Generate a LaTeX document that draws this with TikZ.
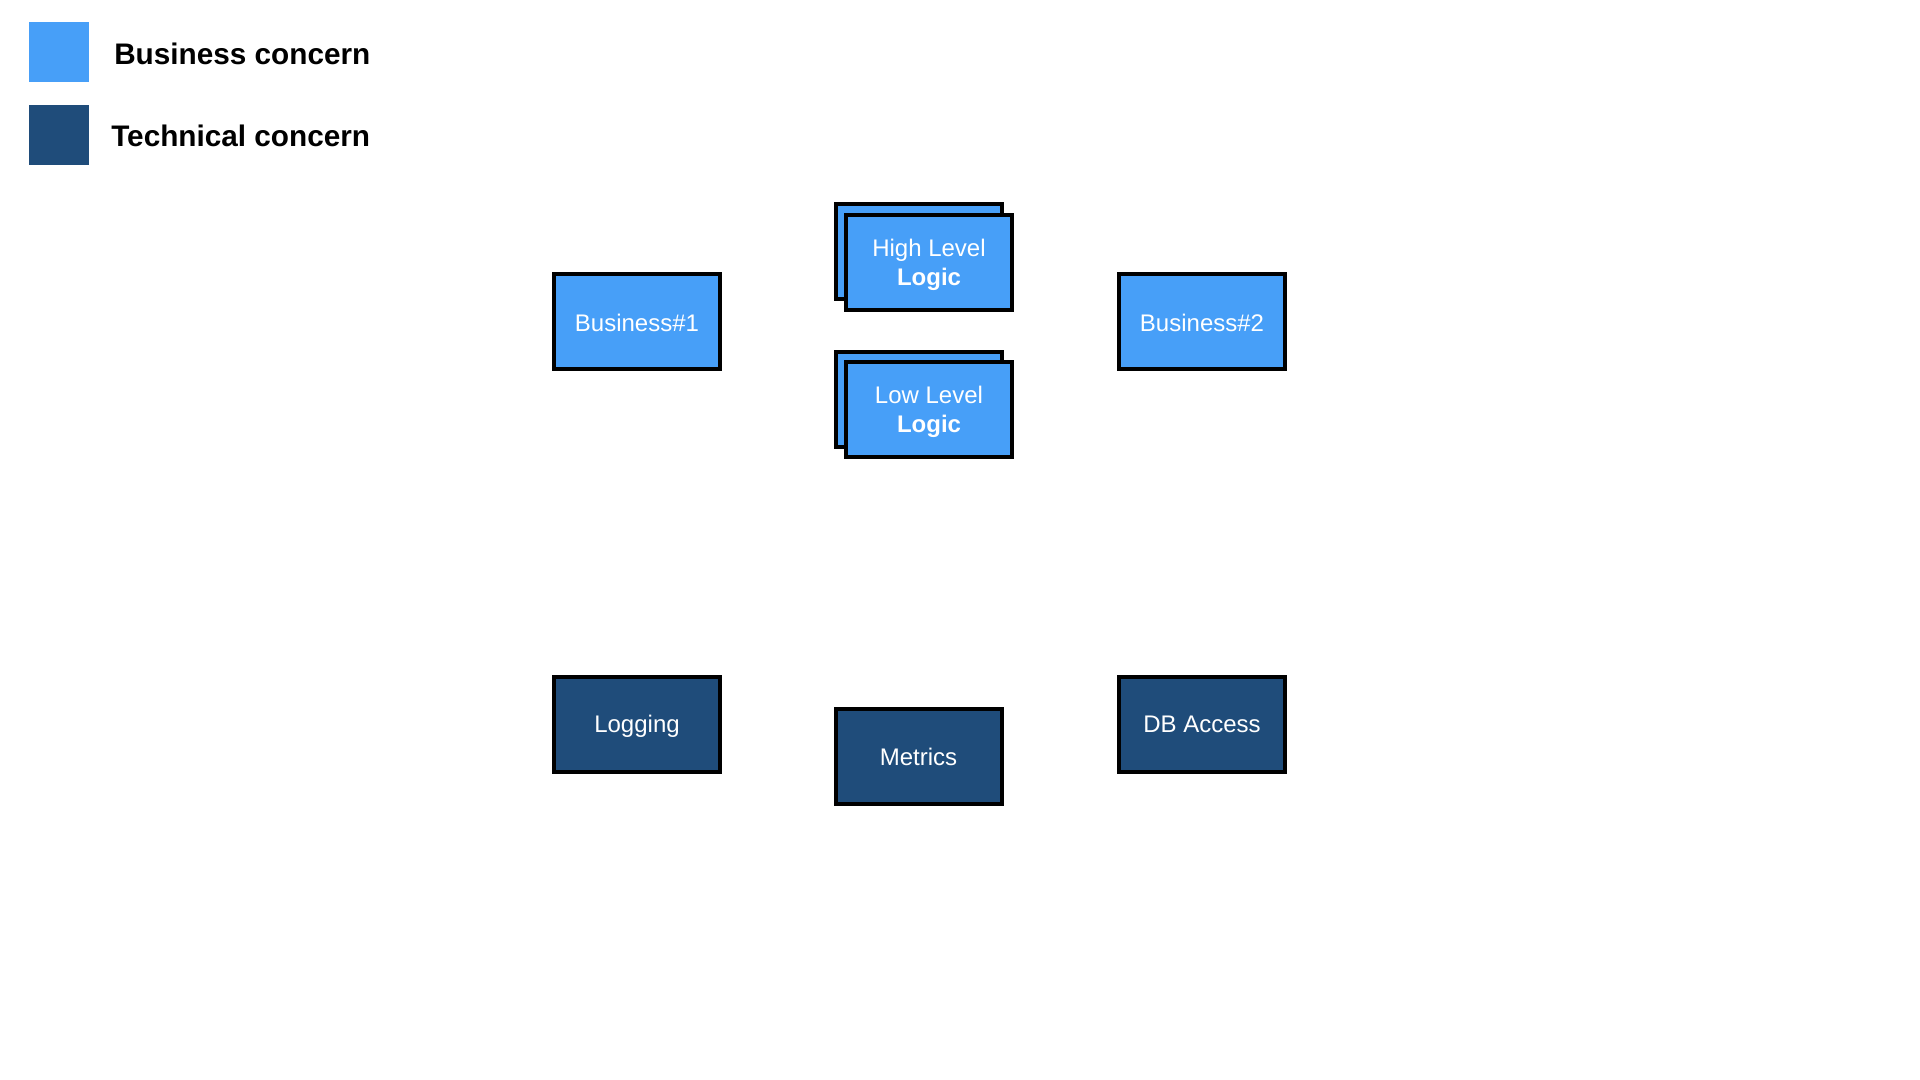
\documentclass[tikz,border=0pt]{standalone}
\usepackage{fontspec}
\setmainfont{Liberation Sans}
\definecolor{bizblue}{HTML}{479FF8}
\definecolor{techblue}{HTML}{1F4C7A}
\newcommand{\twolines}[2]{\raisebox{-1.8pt}[\height][\depth]{\parbox{120pt}{\centering\fontsize{18}{21.2}\selectfont #1\\#2}}}
\begin{document}
\begin{tikzpicture}[x=0.75pt,y=-0.75pt,
  boxbase/.style={draw=black,line width=3pt,minimum width=124.5pt,minimum height=71.25pt,inner sep=0pt,
    text=white,align=center,font=\fontsize{18}{21.2}\selectfont},
  bizbox/.style={boxbase,fill=bizblue},
  techbox/.style={boxbase,fill=techblue},
  legendsq/.style={minimum width=45pt,minimum height=45pt,inner sep=0pt},
  legendtxt/.style={anchor=base west,inner sep=0pt,font=\fontsize{22.3}{26}\selectfont\bfseries}]
\useasboundingbox (0,0) rectangle (1920,1080);
% legend
\node[legendsq,fill=bizblue] (lbiz) at (59,52) {};
\node[legendsq,fill=techblue] (ltech) at (59,135) {};
\node[legendtxt] (lbiztxt) at (114,64.5) {Business concern};
\node[legendtxt] (ltechtxt) at (111,147) {Technical concern};
% business boxes
\node[bizbox] (b1) at (637,321.5) {\raisebox{-0.8pt}[\height][\depth]{Business\#1}};
\node[bizbox] (b2) at (1202,321.5) {\raisebox{-0.8pt}[\height][\depth]{Business\#2}};
\node[bizbox] (hlback) at (919,252) {};
\node[bizbox] (hl) at (929,262.5) {\twolines{High Level}{\textbf{Logic}}};
\node[bizbox] (llback) at (919,399.5) {};
\node[bizbox] (ll) at (929,409.5) {\twolines{Low Level}{\textbf{Logic}}};
% technical boxes
\node[techbox] (log) at (637,724) {\raisebox{-1.8pt}[\height][\depth]{Logging}};
\node[techbox] (met) at (918.5,756.5) {Metrics};
\node[techbox] (db) at (1202,724) {DB Access};
\end{tikzpicture}
\end{document}
